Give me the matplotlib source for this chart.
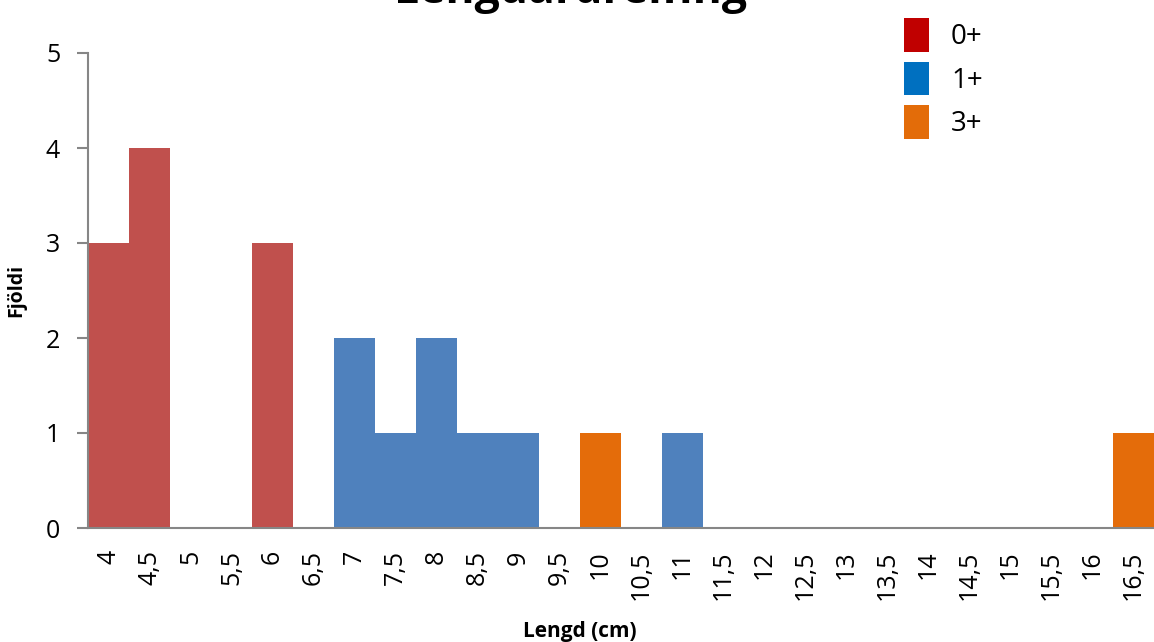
import matplotlib.pyplot as plt
from matplotlib.patches import Patch

plt.rcParams['font.family'] = ['Open Sans', 'DejaVu Sans']

lengths = ["4", "4,5", "5", "5,5", "6", "6,5", "7", "7,5", "8", "8,5", "9", "9,5", "10",
           "10,5", "11", "11,5", "12", "12,5", "13", "13,5", "14", "14,5", "15", "15,5",
           "16", "16,5"]
age0 = [3, 4, 0, 0, 3, 0, 0, 0, 0, 0, 0, 0, 0, 0, 0, 0, 0, 0, 0, 0, 0, 0, 0, 0, 0, 0]
age1 = [0, 0, 0, 0, 0, 0, 2, 1, 2, 1, 1, 0, 0, 0, 1, 0, 0, 0, 0, 0, 0, 0, 0, 0, 0, 0]
age3 = [0, 0, 0, 0, 0, 0, 0, 0, 0, 0, 0, 0, 1, 0, 0, 0, 0, 0, 0, 0, 0, 0, 0, 0, 0, 1]
groups = ["0+", "1+", "3+"]

fig = plt.figure(figsize=(11.54, 6.42), dpi=100)
W, H = 1154, 642
ax = fig.add_axes([88 / W, 1 - 528 / H, (1154 - 88) / W, (528 - 53) / H])

x = range(len(lengths))
ax.bar(x, age0, width=1.0, color="#C0504D")
ax.bar(x, age1, width=1.0, color="#4F81BD")
ax.bar(x, age3, width=1.0, color="#E46C0A")

ax.set_xlim(-0.5, len(lengths) - 0.5)
ax.set_ylim(0, 5)
ax.set_yticks(range(6))
ax.set_xticks(list(x))
ax.set_xticklabels(lengths, rotation=90, fontsize=18)
ax.tick_params(axis="x", length=0, pad=16)
ax.tick_params(axis="y", labelsize=18, length=8, width=1.5, color="#868686",
               direction="out", pad=12)

for s in ["top", "right"]:
    ax.spines[s].set_visible(False)
for s in ["left", "bottom"]:
    ax.spines[s].set_color("#868686")
    ax.spines[s].set_linewidth(1.5)

ax.set_ylabel("Fjöldi", fontsize=14, fontweight="bold", labelpad=14)
fig.text(580 / W, 1 - 631 / H, "Lengd (cm)", fontsize=15, fontweight="bold",
         ha="center", va="center")
fig.text(570 / W, 1 - 3 / H, "Lengdardreifing", fontsize=32, fontweight="bold",
         ha="center", va="baseline")

handles = [Patch(facecolor=c) for c in ["#C00000", "#0070C0", "#E36C09"]]
fig.legend(handles, groups, loc="upper left", bbox_to_anchor=(890 / W, 1 - 4 / H),
           borderpad=0, frameon=False, fontsize=20, handlelength=0.9, handleheight=1.5,
           handletextpad=0.8, labelspacing=0.35)

fig.savefig("out.png", dpi=100)
